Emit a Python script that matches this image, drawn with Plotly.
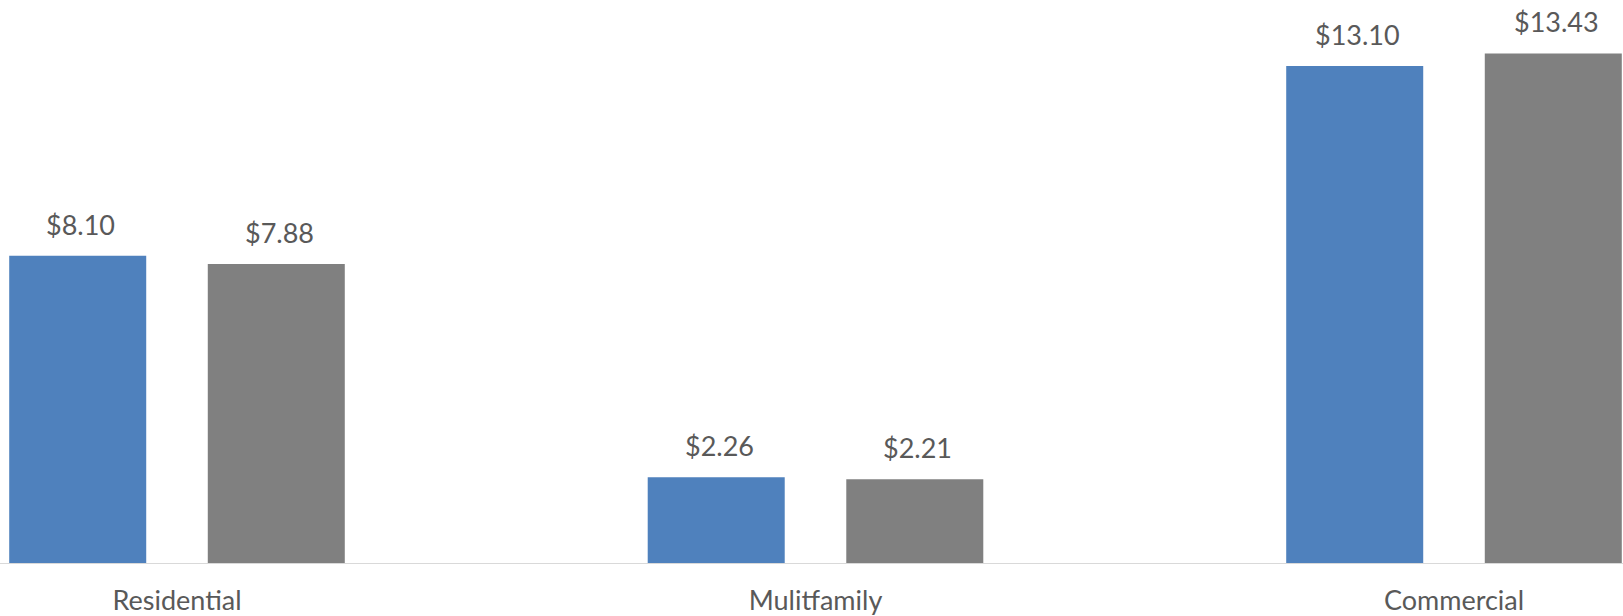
import plotly.graph_objects as go

categories = ["Residential", "Mulitfamily", "Commercial"]
series_a = [8.10, 2.26, 13.10]
series_b = [7.88, 2.21, 13.43]
colors = ["#4f81bd", "#808080"]

BARGAP = 0.378
GROUPGAP = 0.31
FONT = "Lato"
TXT = "#595959"

fig = go.Figure()
for vals, col in zip([series_a, series_b], colors):
    fig.add_trace(go.Bar(x=categories, y=vals, marker=dict(color=col, line=dict(width=0)),
                         hoverinfo="skip"))

slot = (1 - BARGAP) / 2
for j, vals in enumerate([series_a, series_b]):
    for i, v in enumerate(vals):
        fig.add_annotation(x=i + (j - 0.5) * slot, y=v, xref="x", yref="y",
                           text=f"${v:.2f}", showarrow=False, yanchor="bottom",
                           yshift=13, xshift=3,
                           font=dict(family=FONT, size=27, color=TXT))

fig.update_layout(
    width=1623, height=616,
    margin=dict(l=0, r=0, t=0, b=53, autoexpand=False),
    plot_bgcolor="white", paper_bgcolor="white",
    barmode="group", bargap=BARGAP, bargroupgap=GROUPGAP,
    showlegend=False,
    xaxis=dict(range=[-177/638.5, (1623-177)/638.5], showline=True, linecolor="#d9d9d9",
               linewidth=1, showgrid=False, ticks="", ticklabelstandoff=14, automargin=False,
               tickfont=dict(family=FONT, size=27, color=TXT)),
    yaxis=dict(range=[0, 563/37.94], visible=False, showgrid=False, automargin=False),
)
fig.write_html("out.html")
